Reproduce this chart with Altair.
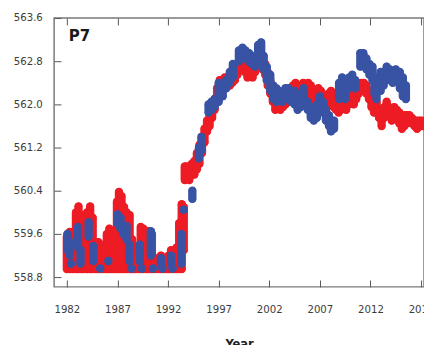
import altair as alt
import pandas as pd

# ---- data (year, low, high of the dot cluster) ----
red_year = [1982.0, 1982.3, 1982.55, 1982.9, 1983.15, 1983.4, 1983.65, 1984.0,
            1984.3, 1984.55, 1984.85, 1985.1, 1985.4, 1985.65, 1985.95, 1986.2,
            1986.45, 1986.7, 1986.95, 1987.15, 1987.4, 1987.65, 1987.9, 1988.2,
            1988.45, 1988.75, 1989.0, 1989.3, 1989.55, 1989.85, 1990.1, 1990.4,
            1990.7, 1991.0, 1991.3, 1991.55, 1991.8, 1992.05, 1992.3, 1992.6,
            1992.85, 1993.1, 1993.35, 1993.55,
            1993.65, 1993.85, 1994.1, 1994.35, 1994.6, 1994.85, 1995.1,
            1995.35, 1995.6, 1995.85, 1996.1, 1996.35, 1996.6, 1996.85, 1997.1,
            1997.35, 1997.6, 1997.85, 1998.1, 1998.35, 1998.6, 1998.85, 1999.1,
            1999.35, 1999.6, 1999.85, 2000.1, 2000.35, 2000.6, 2000.85, 2001.1,
            2001.35, 2001.6, 2001.85, 2002.1, 2002.35, 2002.6, 2002.85, 2003.1,
            2003.35, 2003.6, 2003.85, 2004.1, 2004.35, 2004.6, 2004.85, 2005.1,
            2005.35, 2005.6, 2005.85, 2006.1, 2006.35, 2006.6, 2006.85, 2007.1,
            2007.35, 2007.6, 2007.85, 2008.1, 2008.35, 2008.6, 2008.85, 2009.1,
            2009.35, 2009.6, 2009.85, 2010.1, 2010.35, 2010.6, 2010.85, 2011.1,
            2011.35, 2011.6, 2011.85, 2012.1, 2012.35, 2012.6, 2012.85, 2013.1,
            2013.35, 2013.6, 2013.85, 2014.1, 2014.35, 2014.6, 2014.85, 2015.1,
            2015.35, 2015.6, 2015.85, 2016.1, 2016.35, 2016.6, 2016.85, 2017.1,
            2017.3]
red_lo = [558.95, 558.95, 558.95, 558.95, 558.95, 558.95, 558.95, 558.95,
          558.95, 558.95, 558.95, 558.95, 558.95, 558.95, 558.95, 558.95,
          558.95, 558.95, 558.95, 558.95, 558.95, 558.95, 558.95, 558.95,
          558.95, 558.95, 558.95, 558.95, 558.95, 558.95, 558.95, 558.95,
          558.95, 558.95, 558.95, 558.95, 558.95, 558.95, 558.95, 558.95,
          558.95, 558.95, 558.95, 559.3,
          560.6, 560.65, 560.6, 560.7, 560.7, 560.8, 560.9,
          561.1, 561.3, 561.5, 561.6, 561.75, 561.9, 562.05, 562.2,
          562.3, 562.35, 562.4, 562.35, 562.4, 562.45, 562.55, 562.65,
          562.7, 562.6, 562.5, 562.55, 562.5, 562.6, 562.7, 562.7,
          562.65, 562.55, 562.35, 562.2, 562.05, 561.9, 561.95, 561.9,
          561.95, 562.0, 562.05, 562.1, 562.15, 562.2, 562.2, 562.15,
          562.2, 562.15, 562.2, 562.15, 562.1, 562.05, 562.15, 562.1,
          561.95, 561.9, 562.0, 562.05, 561.95, 561.9, 561.85, 561.9,
          561.95, 561.9, 562.0, 562.05, 562.0, 562.1, 562.2, 562.25,
          562.3, 562.2, 562.1, 561.95, 561.85, 561.9, 561.75, 561.6,
          561.75, 561.85, 561.8, 561.7, 561.8, 561.75, 561.65, 561.55,
          561.6, 561.65, 561.7, 561.65, 561.6, 561.55, 561.6, 561.6,
          561.6]
red_hi = [559.55, 559.64, 559.3, 560.0, 560.11, 559.95, 559.85, 560.0,
          560.11, 559.9, 559.4, 559.45, 559.4, 559.2, 559.6, 559.7,
          559.6, 559.3, 560.2, 560.38, 560.3, 560.1, 560.0, 559.95,
          559.5, 559.05, 559.2, 559.73, 559.7, 559.55, 559.65, 559.6,
          559.1, 559.15, 559.2, 559.15, 558.95, 559.2, 559.3, 559.25,
          559.35, 559.8, 560.15, 560.1,
          560.85, 560.85, 560.8, 560.9, 560.95, 561.1, 561.25,
          561.4, 561.55, 561.7, 561.85, 562.0, 562.1, 562.3, 562.45,
          562.45, 562.5, 562.5, 562.5, 562.55, 562.6, 562.75, 562.85,
          562.9, 562.8, 562.7, 562.7, 562.65, 562.75, 562.9, 562.9,
          562.85, 562.75, 562.6, 562.45, 562.25, 562.1, 562.15, 562.1,
          562.15, 562.2, 562.2, 562.3, 562.35, 562.4, 562.35, 562.3,
          562.4, 562.35, 562.4, 562.35, 562.25, 562.2, 562.3, 562.25,
          562.15, 562.1, 562.2, 562.25, 562.15, 562.05, 562.0, 562.05,
          562.1, 562.0, 562.1, 562.2, 562.15, 562.25, 562.3, 562.4,
          562.4, 562.35, 562.25, 562.1, 562.0, 562.05, 561.9, 561.8,
          561.95, 562.05, 561.95, 561.85, 561.95, 561.9, 561.85, 561.75,
          561.8, 561.8, 561.8, 561.75, 561.7, 561.7, 561.7, 561.7,
          561.65]

blue_year = [1982.05, 1982.3, 1982.4, 1983.1, 1983.35, 1984.15, 1984.6, 1985.3,
             1986.1, 1987.0, 1987.3, 1987.6, 1987.9, 1988.2, 1988.4, 1989.2,
             1989.4, 1990.3, 1990.5, 1991.3, 1991.45, 1992.3, 1992.45, 1993.3,
             1993.55, 1994.4, 1995.05, 1995.3, 1996.0, 1996.3, 1996.6,
             1997.0, 1997.4, 1997.75, 1998.1, 1998.4, 1999.0, 1999.35, 1999.65,
             2000.0, 2000.3, 2000.6, 2000.9, 2001.2, 2001.45, 2001.75, 2002.1,
             2002.4, 2002.7, 2003.0, 2003.3, 2003.6, 2003.9, 2004.2, 2004.5,
             2004.8, 2005.1, 2005.4, 2005.8, 2006.1, 2006.4, 2006.7, 2007.0,
             2007.3, 2007.6, 2007.9, 2008.1, 2008.4, 2008.9, 2009.2, 2009.5,
             2009.9, 2010.2, 2010.5, 2011.0, 2011.3, 2011.6, 2011.9, 2012.2,
             2012.4, 2012.6, 2013.0, 2013.3, 2013.6, 2013.9, 2014.2, 2014.5,
             2014.9, 2015.2, 2015.5]
blue_lo = [559.3, 559.2, 559.05, 559.35, 559.05, 559.55, 559.1, 558.96,
           559.1, 559.8, 559.7, 559.6, 559.5, 559.1, 558.96, 559.1,
           558.96, 559.2, 558.96, 559.05, 558.96, 559.05, 558.96, 559.05,
           560.05, 560.25, 561.0, 561.15, 561.85, 561.9, 561.95,
           562.05, 562.15, 562.3, 562.4, 562.5, 562.8, 562.85, 562.85,
           562.8, 562.75, 562.7, 562.9, 562.95, 562.65, 562.45, 562.25,
           562.1, 562.05, 562.1, 562.05, 562.1, 562.15, 562.05, 562.0,
           561.9, 561.95, 562.0, 561.9, 561.75, 561.7, 561.75, 561.9,
           561.85, 561.7, 561.6, 561.5, 561.55, 562.1, 562.15, 562.1,
           562.3, 562.35, 562.3, 562.7, 562.75, 562.65, 562.55, 562.45,
           562.2, 562.1, 562.25, 562.35, 562.45, 562.45, 562.4, 562.45,
           562.3, 562.15, 562.1]
blue_hi = [559.6, 559.45, 559.05, 559.73, 559.3, 559.82, 559.38, 558.96,
           559.1, 559.96, 559.9, 559.75, 559.75, 559.4, 558.96, 559.4,
           558.96, 559.65, 558.96, 559.15, 558.96, 559.2, 558.96, 559.6,
           560.05, 560.4, 561.2, 561.4, 562.0, 562.05, 562.1,
           562.4, 562.35, 562.45, 562.6, 562.75, 563.0, 563.05, 563.0,
           562.95, 562.9, 562.85, 563.1, 563.15, 562.9, 562.7, 562.55,
           562.35, 562.3, 562.25, 562.2, 562.3, 562.3, 562.2, 562.25,
           562.15, 562.2, 562.3, 562.05, 561.95, 561.9, 562.0, 562.15,
           562.05, 561.9, 561.8, 561.65, 561.7, 562.4, 562.5, 562.3,
           562.5, 562.55, 562.45, 562.95, 562.95, 562.85, 562.75, 562.7,
           562.5, 562.3, 562.6, 562.6, 562.7, 562.65, 562.6, 562.65,
           562.6, 562.5, 562.35]

x_ticks = [1982, 1987, 1992, 1997, 2002, 2007, 2012, 2017]
y_ticks = [558.8, 559.6, 560.4, 561.2, 562.0, 562.8, 563.6]
panel_label = "P7"
x_title = "Year"

RED = "#ED1C24"
BLUE = "#3953A4"
FONT = "Liberation Sans Narrow, DejaVu Sans Condensed, Roboto, sans-serif"
DOT = 60
STREAK = 8.5

red_df = pd.DataFrame({"year": red_year, "lo": red_lo, "hi": red_hi})
blue_df = pd.DataFrame({"year": blue_year, "lo": blue_lo, "hi": blue_hi})
label_df = pd.DataFrame({"label": [panel_label]})

xs = alt.Scale(domain=[1980.74, 2017.29], nice=False, zero=False)
ys = alt.Scale(domain=[558.62, 563.6], nice=False, zero=False)

bottom_axis = alt.Axis(values=x_ticks, format="d", tickSize=7, offset=-7, domain=False,
                       labelPadding=17, title=x_title, titlePadding=23, grid=False)
top_axis = alt.Axis(orient="top", values=x_ticks, tickSize=7, offset=-7, domain=False,
                    labels=False, title=None, grid=False)
left_axis = alt.Axis(values=y_ticks, format=".1f", tickSize=7, offset=-7, domain=False,
                     labelPadding=12, title=None, grid=False)


def series_layers(df, color, first=False):
    xa = bottom_axis if first else None
    ya = left_axis if first else None
    rule = alt.Chart(df).mark_rule(color=color, strokeWidth=STREAK, strokeCap="round").encode(
        x=alt.X("year:Q", scale=xs, axis=xa),
        y=alt.Y("lo:Q", scale=ys, axis=ya),
        y2="hi:Q",
    )
    lo = alt.Chart(df).mark_circle(color=color, size=DOT, opacity=1).encode(
        x=alt.X("year:Q", scale=xs, axis=top_axis if first else None),
        y=alt.Y("lo:Q", scale=ys, axis=None),
    )
    hi = alt.Chart(df).mark_circle(color=color, size=DOT, opacity=1).encode(
        x=alt.X("year:Q", scale=xs, axis=None),
        y=alt.Y("hi:Q", scale=ys, axis=None),
    )
    return [rule, lo, hi]


label = alt.Chart(label_df).mark_text(
    align="left", baseline="top", fontSize=17, fontWeight="bold", font=FONT, color="#1a1a1a"
).encode(x=alt.value(15), y=alt.value(10), text="label:N")

chart = alt.layer(
    *series_layers(red_df, RED, first=True),
    *series_layers(blue_df, BLUE),
    label,
).resolve_axis(x="independent", y="independent").properties(
    width=377,
    height=274,
    autosize=alt.AutoSizeParams(type="none"),
    padding={"left": 47, "top": 7, "right": 0, "bottom": 56},
).configure_view(
    stroke="#7a7a7a", strokeWidth=1.5
).configure_axis(
    labelFont=FONT, labelFontSize=11.5, labelColor="#3c3c3c",
    tickColor="#555555", tickWidth=1,
    titleFont=FONT, titleFontSize=13, titleFontWeight="bold", titleColor="#222222",
)

chart.save("out.html", embed_options={"renderer": "svg", "actions": False})
